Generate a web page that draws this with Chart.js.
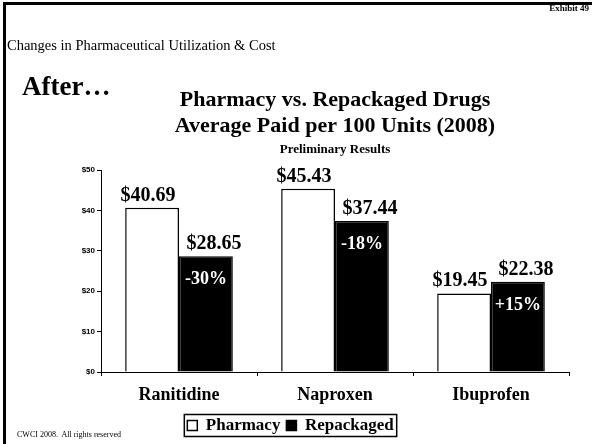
<!DOCTYPE html>
<html>
<head>
<meta charset="utf-8">
<script src="https://cdn.jsdelivr.net/npm/chart.js@4"></script>
<style>
  html, body { margin: 0; padding: 0; background: #fff; overflow: hidden; }
  #page { position: relative; width: 592px; height: 444px; overflow: hidden; font-family: "Liberation Serif", "Times New Roman", serif; color: #000; }
  #chart { position: absolute; left: 0; top: 0; }
  .rule { position: absolute; background: #000; }
  .txt { position: absolute; white-space: nowrap; line-height: 1; }
</style>
</head>
<body>
<div id="page">
  <canvas id="chart" width="592" height="444"></canvas>
  <div class="rule" style="left:3px; top:2px; width:589px; height:3px;"></div>
  <div class="rule" style="left:3px; top:2px; width:3px; height:442px;"></div>
  <div class="txt" style="right:3px; top:4px; font-size:9px; font-weight:bold;">Exhibit 49</div>
  <div class="txt" style="left:7px; top:38px; font-size:14.5px;">Changes in Pharmaceutical Utilization &amp; Cost</div>
  <div class="txt" style="left:22px; top:73px; font-size:27px; font-weight:bold;">After…</div>
  <div class="txt" style="left:17px; top:431px; font-size:8px;">CWCI 2008.&nbsp; All rights reserved</div>
</div>
<script>
// Average paid per 100 units, 2008
const categories = ['Ranitidine', 'Naproxen', 'Ibuprofen'];
const pharmacy = [40.69, 45.43, 19.45];
const repackaged = [28.65, 37.44, 22.38];
const changeLabels = ['-30%', '-18%', '+15%'];
const yTickValues = [0, 10, 20, 30, 40, 50];

const serif = '"Liberation Serif", "Times New Roman", serif';
const sans = '"Liberation Sans", Arial, sans-serif';

// Horizontal nudge of the value labels per series, so neighbouring labels don't collide
const labelNudge = [-4, 8];

// Dollar values above every bar, percentage change inside the repackaged bars
const barLabels = {
  id: 'barLabels',
  afterDatasetsDraw(chart) {
    const ctx = chart.ctx;
    ctx.save();
    ctx.textAlign = 'center';
    ctx.textBaseline = 'alphabetic';
    chart.data.datasets.forEach((ds, di) => {
      const meta = chart.getDatasetMeta(di);
      meta.data.forEach((bar, i) => {
        ctx.fillStyle = '#000';
        ctx.font = 'bold 20px ' + serif;
        ctx.fillText('$' + ds.data[i].toFixed(2), bar.x + labelNudge[di], bar.y - 7);
      });
    });
    const rep = chart.getDatasetMeta(1);
    rep.data.forEach((bar, i) => {
      ctx.fillStyle = '#fff';
      ctx.font = 'bold 18px ' + serif;
      ctx.fillText(changeLabels[i], bar.x, bar.y + 28);
    });
    ctx.restore();
  }
};

// Legend row sits a little right of centre, inside a thin frame
const legendFrame = {
  id: 'legendFrame',
  afterLayout(chart) {
    const lg = chart.legend;
    if (!lg) return;
    lg.left += 6;
    lg.right += 6;
  },
  afterDraw(chart) {
    const lg = chart.legend;
    if (!lg || !lg.legendHitBoxes || !lg.legendHitBoxes.length) return;
    const boxes = lg.legendHitBoxes;
    const first = boxes[0], last = boxes[boxes.length - 1];
    const left = first.left - 3;
    const right = last.left + last.width + 3;
    const cy = first.top + first.height / 2;
    const ctx = chart.ctx;
    ctx.save();
    ctx.strokeStyle = '#000';
    ctx.lineWidth = 1.5;
    ctx.strokeRect(left, cy - 11, right - left, 22);
    ctx.restore();
  }
};

new Chart(document.getElementById('chart'), {
  type: 'bar',
  data: {
    labels: categories,
    datasets: [
      { label: 'Pharmacy', data: pharmacy, backgroundColor: '#fff', borderColor: '#000', borderWidth: 1.5 },
      { label: 'Repackaged', data: repackaged, backgroundColor: '#000', borderColor: '#000', borderWidth: 1.5 }
    ]
  },
  options: {
    responsive: false,
    animation: false,
    events: [],
    layout: { padding: { left: 0, right: 23, top: 0, bottom: 0 } },
    datasets: { bar: { categoryPercentage: 0.69, barPercentage: 1.0 } },
    scales: {
      x: {
        grid: { drawOnChartArea: false, drawTicks: true, tickLength: 4, color: '#000', offset: true },
        border: { color: '#000', width: 1 },
        ticks: { color: '#000', padding: 9, font: { family: serif, size: 18, weight: 'bold' } },
        afterFit(scale) { scale.height = 39; }
      },
      y: {
        min: 0,
        max: 50,
        afterBuildTicks(scale) { scale.ticks = yTickValues.map(v => ({ value: v })); },
        grid: { drawOnChartArea: false, drawTicks: true, tickLength: 4, color: '#000' },
        border: { color: '#000', width: 1 },
        ticks: { color: '#000', padding: 2, font: { family: sans, size: 8, weight: 'bold' }, callback: v => '$' + v },
        afterFit(scale) { scale.width = 101; }
      }
    },
    plugins: {
      title: {
        display: true,
        fullSize: false,
        text: ['Pharmacy vs. Repackaged Drugs', 'Average Paid per 100 Units (2008)'],
        color: '#000',
        font: { family: serif, size: 22, weight: 'bold', lineHeight: 1.15 },
        padding: { top: 88, bottom: 2 }
      },
      subtitle: {
        display: true,
        fullSize: false,
        text: 'Preliminary Results',
        color: '#000',
        font: { family: serif, size: 13, weight: 'bold', lineHeight: 1.2 },
        padding: { top: 1, bottom: 13 }
      },
      legend: {
        position: 'bottom',
        labels: {
          color: '#000',
          boxWidth: 10,
          boxHeight: 10,
          padding: 6,
          font: { family: serif, size: 17, weight: 'bold' }
        }
      },
      tooltip: { enabled: false }
    }
  },
  plugins: [barLabels, legendFrame]
});
</script>
</body>
</html>
